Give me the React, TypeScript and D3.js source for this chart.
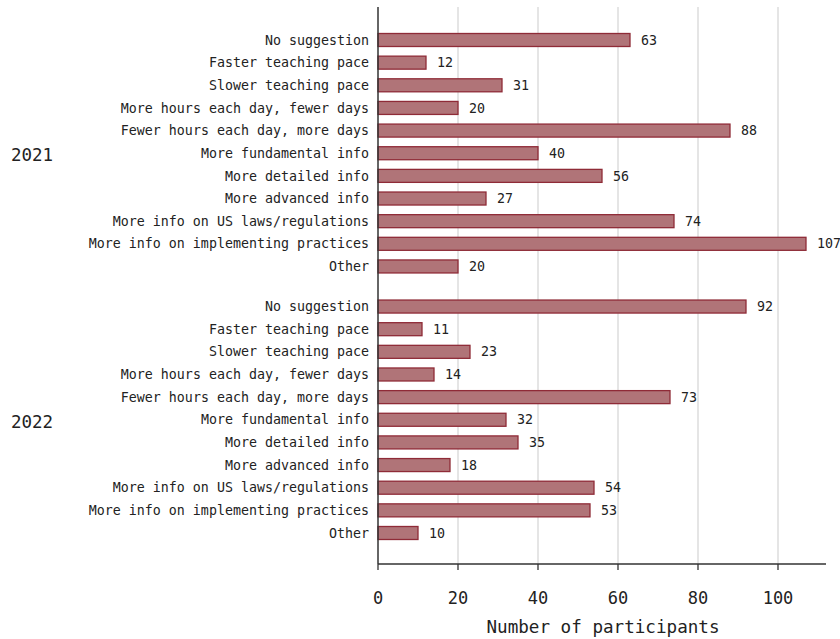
import React from "react";
import * as d3 from "d3";

const categories = [
  "No suggestion",
  "Faster teaching pace",
  "Slower teaching pace",
  "More hours each day, fewer days",
  "Fewer hours each day, more days",
  "More fundamental info",
  "More detailed info",
  "More advanced info",
  "More info on US laws/regulations",
  "More info on implementing practices",
  "Other",
];
const groups = ["2021", "2022"];
const values2021 = [63, 12, 31, 20, 88, 40, 56, 27, 74, 107, 20];
const values2022 = [92, 11, 23, 14, 73, 32, 35, 18, 54, 53, 10];
const xTicks = [0, 20, 40, 60, 80, 100];
const xTitle = "Number of participants";

const W = 840;
const H = 639;
const FONT = "'DejaVu Sans Mono', 'Liberation Mono', monospace";

export default function App() {
  const x0 = 378;
  const yTop = 7;
  const yBottom = 564;
  const x = d3.scaleLinear().domain([0, 112]).range([x0, 826]);
  const gap = 1.77;
  const n = categories.length;
  const totalSlots = n * 2 - 1 + gap;
  const y = d3.scaleLinear().domain([0, totalSlots - 1]).range([40, 533]);
  const slot = (g: number, i: number) => (g === 0 ? i : n - 1 + gap + i);
  const barH = 13;
  const data = [values2021, values2022];

  return (
    <svg width={W} height={H} style={{ position: "absolute", left: 0, top: 0, background: "#fff" }}>
      {xTicks.filter((t) => t > 0).map((t) => (
        <line key={"g" + t} x1={x(t)} x2={x(t)} y1={yTop} y2={yBottom} stroke="#dcdcdc" strokeWidth={1.5} />
      ))}
      {data.map((vals, g) =>
        vals.map((v, i) => {
          const cy = y(slot(g, i));
          return (
            <g key={g + "-" + i}>
              <rect
                x={x(0)}
                y={cy - barH / 2}
                width={x(v) - x(0)}
                height={barH}
                fill="#b07478"
                stroke="#8f2b37"
                strokeWidth={1.3}
              />
              <text x={x(v) + 11} y={cy} dy="0.35em" fontFamily={FONT} fontSize={13.3} fill="#222">
                {v}
              </text>
              <text x={x0 - 9} y={cy} dy="0.35em" textAnchor="end" fontFamily={FONT} fontSize={13.3} fill="#222">
                {categories[i]}
              </text>
            </g>
          );
        })
      )}
      {groups.map((gname, g) => {
        const cy = (y(slot(g, 0)) + y(slot(g, n - 1))) / 2;
        return (
          <text key={gname} x={11} y={cy + 2} dy="0.35em" fontFamily={FONT} fontSize={17.5} fill="#222">
            {gname}
          </text>
        );
      })}
      <line x1={x0} x2={x0} y1={yTop} y2={yBottom} stroke="#333" strokeWidth={1.5} />
      <line x1={x0} x2={826} y1={yBottom} y2={yBottom} stroke="#333" strokeWidth={1.5} />
      {xTicks.map((t) => (
        <g key={"t" + t}>
          <line x1={x(t)} x2={x(t)} y1={yBottom} y2={yBottom + 6} stroke="#333" strokeWidth={1.3} />
          <text x={x(t)} y={604} textAnchor="middle" fontFamily={FONT} fontSize={17} fill="#222">
            {t}
          </text>
        </g>
      ))}
      <text x={603} y={633} textAnchor="middle" fontFamily={FONT} fontSize={17.6} fill="#222">
        {xTitle}
      </text>
    </svg>
  );
}
